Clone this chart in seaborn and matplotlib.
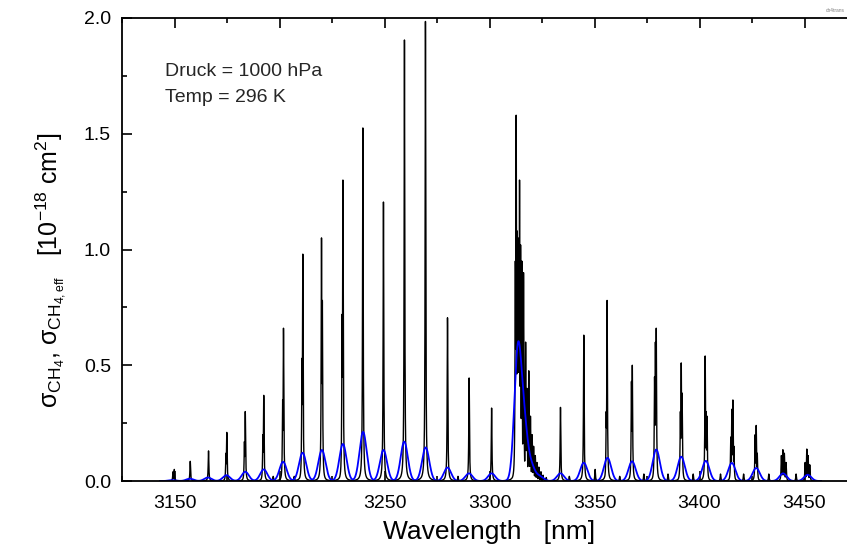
import numpy as np
import pandas as pd
import matplotlib
matplotlib.use("Agg")
import matplotlib.pyplot as plt
import seaborn as sns
from matplotlib.ticker import MultipleLocator

# CH4 absorption lines: centre [nm], peak cross section [1e-18 cm^2]
line_nm = [3149.3, 3149.9, 3157.5, 3166.2, 3174.5, 3174.9, 3183.3, 3183.7,
           3192.1, 3192.5, 3197.0, 3201.5, 3201.9, 3207.0, 3210.7, 3211.1,
           3220.0, 3220.4, 3229.8, 3230.2, 3239.7, 3249.5, 3259.5, 3269.5,
           3280.0, 3285.0, 3290.3, 3301.0,
           3312.3, 3312.7, 3313.2, 3313.6, 3314.0, 3314.3, 3314.8, 3315.4,
           3316.2, 3317.2, 3317.8, 3318.7, 3319.5, 3320.3, 3321.0, 3321.8,
           3322.6, 3323.5, 3324.5, 3325.5, 3327.0,
           3333.8, 3338.0, 3344.9, 3350.3, 3355.6, 3356.0, 3362.0, 3367.6,
           3368.0, 3373.5, 3378.6, 3379.0, 3379.4, 3385.0, 3390.9, 3391.3,
           3391.7, 3397.0, 3402.7, 3403.2, 3403.6, 3410.0, 3414.9, 3415.4,
           3415.9, 3416.4, 3421.0, 3426.5, 3427.0, 3427.5, 3433.0, 3439.0,
           3439.7, 3440.4, 3441.2, 3446.0, 3450.3, 3451.1, 3451.7, 3452.5]
line_sigma = [0.04, 0.05, 0.085, 0.13, 0.12, 0.21, 0.17, 0.30,
              0.20, 0.37, 0.02, 0.35, 0.66, 0.02, 0.53, 0.98,
              1.05, 0.78, 0.72, 1.30, 1.525, 1.205, 1.905, 1.985,
              0.705, 0.02, 0.445, 0.315,
              0.95, 1.58, 1.08, 1.05, 1.00, 1.30, 1.02, 0.95,
              0.90, 0.60, 0.40, 0.476, 0.28, 0.20, 0.15, 0.11,
              0.08, 0.06, 0.04, 0.025, 0.015,
              0.318, 0.02, 0.63, 0.05, 0.30, 0.78, 0.02, 0.43,
              0.50, 0.03, 0.45, 0.60, 0.66, 0.03, 0.30, 0.51,
              0.38, 0.03, 0.54, 0.30, 0.28, 0.03, 0.19, 0.31,
              0.35, 0.15, 0.03, 0.20, 0.24, 0.12, 0.03, 0.11,
              0.135, 0.12, 0.08, 0.03, 0.08, 0.138, 0.11, 0.07]

# effective (smoothed) cross section peaks
eff_nm = [3149.0, 3157.3, 3165.9, 3174.7, 3183.7, 3192.5, 3201.7, 3211.0,
          3220.2, 3230.2, 3239.8, 3249.5, 3259.4, 3269.6, 3280.0, 3290.2,
          3301.0, 3313.5, 3316.5, 3320.0, 3324.0, 3333.8, 3344.9, 3356.2,
          3367.9, 3379.4, 3391.3, 3403.0, 3415.4, 3427.0, 3439.8, 3451.5]
eff_sigma = [0.004, 0.01, 0.015, 0.025, 0.04, 0.05, 0.083, 0.122,
             0.134, 0.16, 0.212, 0.134, 0.17, 0.145, 0.058, 0.033,
             0.033, 0.55, 0.22, 0.06, 0.02, 0.033, 0.079, 0.10,
             0.085, 0.136, 0.105, 0.087, 0.078, 0.056, 0.033, 0.027]

druck_hpa = 1000
temp_k = 296

hwhm_line = 0.18   # nm, Lorentz half width
sig_eff = 1.7      # nm, gaussian width of the smoothing

wl = np.arange(3143.0, 3458.0, 0.02)
prof = [h / (1 + ((wl - c) / hwhm_line) ** 2) for c, h in zip(line_nm, line_sigma)]
sigma_ch4 = np.max(prof, axis=0)
sigma_eff = np.sum([h * np.exp(-0.5 * ((wl - c) / sig_eff) ** 2)
                    for c, h in zip(eff_nm, eff_sigma)], axis=0)

df_line = pd.DataFrame({"wl": wl, "sigma": sigma_ch4})
df_eff = pd.DataFrame({"wl": wl, "sigma": sigma_eff})

sns.set_theme(style="ticks")
plt.rcParams["font.family"] = ["Liberation Sans", "DejaVu Sans"]
plt.rcParams["mathtext.fontset"] = "custom"
plt.rcParams["mathtext.rm"] = "Liberation Sans"
plt.rcParams["mathtext.it"] = "Liberation Sans:italic"

fig = plt.figure(figsize=(8.47, 5.46), dpi=100)
ax = fig.add_axes([122 / 847, 1 - 481 / 546, 735 / 847, 463 / 546])

sns.lineplot(data=df_line, x="wl", y="sigma", color="black", linewidth=1.0,
             estimator=None, sort=False, ax=ax)
sns.lineplot(data=df_eff, x="wl", y="sigma", color="blue", linewidth=1.3,
             estimator=None, sort=False, ax=ax)

ax.set_xlim(3125, 3475)
ax.set_ylim(0, 2.0)
ax.xaxis.set_major_locator(MultipleLocator(50))
ax.xaxis.set_minor_locator(MultipleLocator(25))
ax.yaxis.set_major_locator(MultipleLocator(0.5))
ax.yaxis.set_minor_locator(MultipleLocator(0.25))
ax.tick_params(which="both", direction="in", top=True, right=True,
               width=1.2, color="black", labelsize=14, labelcolor="black")
ax.tick_params(which="major", length=7)
ax.tick_params(which="minor", length=3.5)
ax.tick_params(axis="x", pad=10)
ax.tick_params(axis="y", pad=8)
for sp in ax.spines.values():
    sp.set_linewidth(1.3)
    sp.set_color("black")

ax.set_xlabel("Wavelength   [nm]", fontsize=19, color="black", labelpad=6)
ax.set_ylabel(r"$\mathrm{\sigma_{CH_4}}$, $\mathrm{\sigma_{CH_{4,eff}}}$   "
              r"[10$^{\mathrm{-18}}$ cm$^{\mathrm{2}}$]", fontsize=18, color="black")
ax.yaxis.set_label_coords(-0.073, 0.456)

ax.text(3145.5, 1.77, f"Druck = {druck_hpa} hPa", fontsize=14, va="center")
ax.text(3145.5, 1.655, f"Temp = {temp_k} K", fontsize=14, va="center")

fig.text(835 / 847, 1 - 11 / 546, "ch4trans", fontsize=3.5, color="0.5",
         ha="center", va="center")

fig.savefig("out.png", dpi=100)
